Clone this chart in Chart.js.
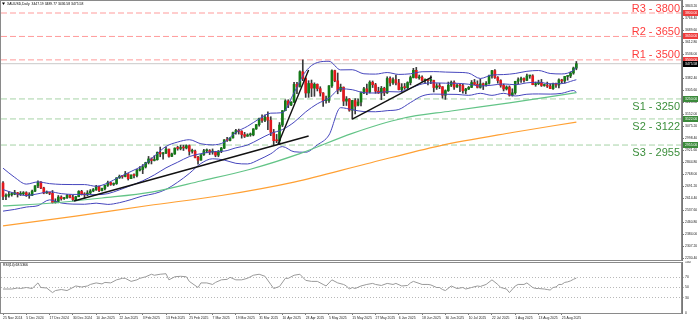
<!DOCTYPE html>
<html>
<head>
<meta charset="utf-8">
<title>XAUUSD Daily</title>
<script src="https://cdn.jsdelivr.net/npm/chart.js@4.4.1/dist/chart.umd.min.js"></script>
<style>
  html, body { margin: 0; padding: 0; background: #fff; }
  #wrap { position: relative; width: 698px; height: 323px; overflow: hidden; }
  #priceChart { position: absolute; left: 0; top: 0; }
  #rsiChart { position: absolute; left: 0; top: 261px; }
</style>
</head>
<body>
<div id="wrap">
  <canvas id="priceChart" width="698" height="261"></canvas>
  <canvas id="rsiChart" width="698" height="62"></canvas>
</div>
<script>
// daily candles, 25 Nov 2024 .. 1 Sep 2025 (bar index 0..197)
const opens = [
  2712, 2626, 2633, 2638, 2640, 2650, 2640, 2643, 2650, 2632,
  2633, 2660, 2694, 2718, 2680, 2648, 2652, 2646, 2586, 2594,
  2622, 2612, 2617, 2633, 2621, 2606, 2624, 2658, 2640, 2636,
  2648, 2661, 2670, 2690, 2663, 2677, 2697, 2715, 2703, 2708,
  2745, 2755, 2754, 2770, 2740, 2763, 2760, 2794, 2798, 2815,
  2843, 2866, 2856, 2861, 2908, 2898, 2904, 2929, 2883, 2898,
  2935, 2933, 2939, 2936, 2951, 2915, 2916, 2876, 2858, 2893,
  2918, 2920, 2910, 2910, 2890, 2916, 2935, 2988, 2984, 3001,
  3035, 3048, 3043, 3022, 3011, 3020, 3020, 3058, 3085, 3124,
  3113, 3133, 3114, 3037, 2983, 2982, 3083, 3175, 3237, 3211,
  3229, 3343, 3327, 3424, 3381, 3288, 3349, 3319, 3344, 3316,
  3288, 3239, 3240, 3334, 3431, 3366, 3306, 3325, 3236, 3249,
  3178, 3240, 3210, 3230, 3290, 3315, 3294, 3357, 3341, 3300,
  3288, 3318, 3289, 3381, 3353, 3373, 3352, 3310, 3325, 3322,
  3355, 3387, 3433, 3385, 3389, 3369, 3370, 3368, 3368, 3323,
  3333, 3328, 3274, 3303, 3338, 3357, 3326, 3337, 3335, 3302,
  3313, 3324, 3355, 3343, 3324, 3347, 3339, 3350, 3397, 3431,
  3387, 3368, 3337, 3314, 3326, 3274, 3289, 3363, 3373, 3381,
  3369, 3397, 3398, 3341, 3348, 3356, 3336, 3336, 3332, 3316,
  3348, 3339, 3372, 3365, 3394, 3397, 3416, 3447.19
];
const highs = [
  2721, 2642, 2657, 2651, 2665, 2652, 2657, 2657, 2656, 2650,
  2667, 2696, 2726, 2721, 2685, 2661, 2653, 2664, 2611, 2632,
  2630, 2621, 2639, 2637, 2634, 2627, 2663, 2665, 2650, 2663,
  2670, 2677, 2697, 2693, 2679, 2698, 2724, 2716, 2713, 2746,
  2763, 2759, 2786, 2772, 2764, 2771, 2799, 2817, 2830, 2845,
  2882, 2873, 2887, 2911, 2942, 2909, 2942, 2929, 2904, 2937,
  2947, 2955, 2954, 2956, 2956, 2929, 2923, 2882, 2894, 2928,
  2930, 2926, 2930, 2915, 2920, 2940, 2990, 3005, 3001, 3038,
  3055, 3057, 3047, 3036, 3027, 3032, 3060, 3087, 3128, 3149,
  3149, 3168, 3136, 3055, 3023, 3099, 3176, 3245, 3245, 3233,
  3357, 3357, 3430, 3500, 3386, 3367, 3371, 3353, 3346, 3328,
  3291, 3269, 3335, 3437, 3434, 3416, 3345, 3327, 3265, 3253,
  3241, 3252, 3250, 3295, 3325, 3345, 3366, 3365, 3350, 3325,
  3330, 3325, 3392, 3392, 3385, 3403, 3375, 3348, 3349, 3360,
  3397, 3446, 3452, 3403, 3398, 3378, 3374, 3398, 3370, 3348,
  3350, 3329, 3308, 3358, 3365, 3366, 3345, 3343, 3345, 3318,
  3330, 3368, 3375, 3366, 3377, 3352, 3361, 3402, 3433, 3438,
  3393, 3373, 3345, 3334, 3334, 3315, 3363, 3385, 3390, 3385,
  3409, 3400, 3405, 3358, 3370, 3375, 3346, 3358, 3346, 3351,
  3351, 3379, 3376, 3394, 3398, 3423, 3454, 3489.77
];
const lows = [
  2605, 2605, 2622, 2628, 2637, 2622, 2632, 2634, 2626, 2614,
  2631, 2656, 2682, 2676, 2643, 2645, 2637, 2583, 2583, 2585,
  2602, 2607, 2614, 2616, 2596, 2605, 2624, 2635, 2615, 2631,
  2641, 2656, 2664, 2656, 2661, 2667, 2690, 2697, 2696, 2703,
  2741, 2742, 2751, 2731, 2739, 2745, 2751, 2789, 2772, 2808,
  2834, 2834, 2853, 2858, 2880, 2864, 2900, 2877, 2880, 2895,
  2922, 2924, 2920, 2930, 2890, 2903, 2872, 2832, 2858, 2888,
  2905, 2894, 2896, 2880, 2880, 2906, 2932, 2978, 2982, 2999,
  3024, 3025, 2999, 3003, 3011, 3011, 3014, 3055, 3076, 3100,
  3105, 3054, 3015, 2956, 2970, 2957, 3073, 3174, 3194, 3207,
  3228, 3284, 3327, 3367, 3260, 3260, 3265, 3267, 3301, 3268,
  3202, 3223, 3228, 3323, 3360, 3283, 3297, 3207, 3208, 3171,
  3121, 3154, 3206, 3205, 3284, 3277, 3288, 3323, 3286, 3285,
  3245, 3271, 3285, 3333, 3343, 3339, 3307, 3293, 3311, 3316,
  3340, 3384, 3383, 3376, 3362, 3347, 3340, 3347, 3295, 3311,
  3316, 3255, 3247, 3298, 3329, 3311, 3323, 3296, 3287, 3283,
  3310, 3322, 3341, 3320, 3319, 3310, 3332, 3345, 3383, 3381,
  3351, 3325, 3301, 3307, 3268, 3268, 3280, 3346, 3355, 3358,
  3367, 3382, 3341, 3331, 3341, 3330, 3331, 3323, 3315, 3311,
  3323, 3321, 3351, 3351, 3370, 3386, 3408, 3436.58
];
const closes = [
  2626, 2633, 2638, 2640, 2650, 2640, 2643, 2650, 2632, 2633,
  2660, 2694, 2718, 2680, 2648, 2652, 2646, 2586, 2594, 2622,
  2612, 2617, 2633, 2621, 2606, 2624, 2658, 2640, 2636, 2648,
  2661, 2670, 2690, 2663, 2677, 2697, 2715, 2703, 2708, 2745,
  2755, 2754, 2770, 2740, 2763, 2760, 2794, 2798, 2815, 2843,
  2866, 2856, 2861, 2908, 2898, 2904, 2929, 2883, 2898, 2935,
  2933, 2939, 2936, 2951, 2915, 2916, 2876, 2858, 2893, 2918,
  2920, 2910, 2910, 2890, 2916, 2935, 2988, 2984, 3001, 3035,
  3048, 3043, 3022, 3011, 3020, 3020, 3058, 3085, 3124, 3113,
  3133, 3114, 3037, 2983, 2982, 3083, 3175, 3237, 3211, 3229,
  3343, 3327, 3424, 3381, 3288, 3349, 3319, 3344, 3316, 3288,
  3239, 3240, 3334, 3431, 3366, 3306, 3325, 3236, 3249, 3178,
  3240, 3203, 3230, 3290, 3315, 3294, 3357, 3341, 3300, 3288,
  3318, 3289, 3381, 3353, 3373, 3352, 3310, 3325, 3322, 3355,
  3387, 3433, 3385, 3389, 3369, 3370, 3368, 3368, 3323, 3333,
  3328, 3274, 3303, 3338, 3357, 3326, 3337, 3335, 3302, 3313,
  3324, 3355, 3343, 3324, 3347, 3339, 3350, 3397, 3431, 3387,
  3368, 3337, 3314, 3326, 3274, 3289, 3363, 3373, 3381, 3369,
  3397, 3398, 3341, 3348, 3356, 3336, 3336, 3332, 3316, 3348,
  3339, 3372, 3365, 3394, 3397, 3416, 3448, 3475.58
];

// Bollinger bands (20, 2), sampled every 4th bar
const bbBars = [
  0, 4, 8, 12, 16, 20, 24, 28, 32, 36, 40, 44, 48, 52, 56, 60, 64, 68, 72, 76,
  80, 84, 88, 92, 96, 100, 104, 108, 112, 116, 120, 124, 128, 132, 136, 140,
  144, 148, 152, 156, 160, 164, 168, 172, 176, 180, 184, 188, 192, 196, 197
];
const bbUpper = [
  2807, 2748, 2705, 2719, 2708, 2703, 2702, 2702, 2691, 2712, 2751, 2786, 2824, 2884, 2946, 2974, 2989, 2963, 2956, 2973,
  3036, 3075, 3122, 3159, 3162, 3290, 3426, 3483, 3491, 3436, 3437, 3411, 3409, 3419, 3407, 3411,
  3424, 3425, 3422, 3420, 3415, 3381, 3403, 3406, 3413, 3427, 3432, 3413, 3410, 3433, 3453
];
const bbMiddle = [
  2670, 2646, 2632, 2643, 2656, 2644, 2639, 2639, 2637, 2644, 2668, 2696, 2726, 2764, 2809, 2845, 2881, 2900, 2912, 2916,
  2937, 2955, 2992, 3029, 3054, 3101, 3167, 3219, 3255, 3315, 3309, 3290, 3288, 3297, 3295, 3319,
  3346, 3353, 3351, 3350, 3344, 3333, 3338, 3346, 3341, 3353, 3357, 3347, 3348, 3368, 3373
];
const bbLower = [
  2532, 2543, 2558, 2567, 2604, 2584, 2577, 2576, 2583, 2575, 2586, 2606, 2629, 2644, 2671, 2717, 2773, 2837, 2867, 2859,
  2838, 2834, 2862, 2899, 2945, 2912, 2909, 2956, 3019, 3194, 3181, 3169, 3168, 3175, 3183, 3227,
  3269, 3281, 3280, 3279, 3273, 3286, 3273, 3286, 3269, 3280, 3282, 3281, 3286, 3304, 3293
];

// moving averages (green = 100, orange = 200)
const ma100Bars = [0, 17, 34, 51, 68, 85, 102, 120, 137, 154, 174, 197];
const ma100 = [2565, 2584, 2616, 2654, 2725, 2800, 2900, 3030, 3125, 3173, 3225, 3290];
const ma200Bars = [0, 25, 50, 75, 100, 125, 150, 175, 197];
const ma200 = [2437, 2500, 2568, 2632, 2718, 2835, 2950, 3035, 3102];

// trend lines: [bar, price, bar, price]
const trendLines = [
  [24.4, 2597, 105, 3013],
  [94.5, 2960, 105, 3435],
  [120, 3121, 147.3, 3390]
];

// support / resistance
const levels = [3800, 3650, 3500, 3250, 3122, 2955];
const levelNames = ['R3 - 3800', 'R2 - 3650', 'R1 - 3500', 'S1 - 3250', 'S2 - 3122', 'S3 - 2955'];

// RSI(14)
const rsiBars = [
  0, 3, 5, 6, 8, 10, 12, 13, 15, 17,
  18, 20, 22, 23, 25, 27, 29, 30, 32, 34,
  35, 37, 39, 41, 42, 44, 46, 47, 49, 51,
  52, 54, 56, 57, 59, 61, 63, 64, 67, 68,
  70, 72, 73, 75, 77, 78, 80, 82, 84, 86,
  88, 90, 92, 93, 95, 97, 98, 100, 102, 103,
  104, 106, 108, 110, 111, 113, 115, 117, 118, 119,
  120, 121, 123, 125, 127, 128, 130, 132, 134, 135,
  137, 139, 140, 141, 144, 146, 147, 149, 150, 151,
  152, 154, 156, 158, 159, 161, 163, 164, 166, 168,
  170, 171, 173, 174, 176, 177, 179, 180, 182, 183,
  184, 186, 187, 188, 189, 190, 191, 192, 193, 194,
  195, 196, 197
];
const rsiValues = [
  47, 47, 49, 48, 50, 48, 59, 50, 49, 40,
  44, 46, 44, 47, 53, 51, 53, 56, 59, 57,
  60, 59, 65, 68, 68, 62, 65, 68, 71, 76,
  74, 76, 77, 65, 71, 72, 71, 62, 50, 59,
  59, 56, 60, 65, 66, 70, 65, 65, 68, 74,
  76, 72, 56, 48, 52, 68, 68, 74, 76, 70,
  64, 62, 62, 56, 53, 65, 59, 56, 53, 47,
  50, 48, 53, 56, 58, 56, 54, 58, 56, 58,
  53, 54, 59, 62, 56, 56, 55, 50, 50, 46,
  44, 53, 48, 50, 47, 50, 53, 52, 56, 65,
  56, 50, 47, 40, 53, 56, 56, 59, 50, 48,
  48, 47, 46, 45, 50, 51, 56, 56, 60, 61,
  63, 66, 68.5366
];
const rsiTicks = [0, 30, 50, 70, 100];

// axis ticks
const priceTicks = [
  3843.2, 3766.4, 3689.6, 3612.8, 3536.0, 3459.2, 3382.4, 3305.6, 3228.8, 3152.0, 3075.2,
  2998.4, 2921.6, 2844.8, 2768.0, 2691.2, 2614.4, 2537.6, 2460.8, 2384.0, 2307.2, 2230.4
];
const dateTickBars = [0, 8, 16, 24, 32, 40, 48, 56, 64, 72, 80, 88, 96, 104, 112, 120, 128, 136, 144, 152, 160, 168, 176, 184, 192];
const dateTickLabels = [
  '25 Nov 2024', '5 Dec 2024', '17 Dec 2024', '30 Dec 2024', '10 Jan 2025', '22 Jan 2025', '3 Feb 2025',
  '13 Feb 2025', '25 Feb 2025', '7 Mar 2025', '19 Mar 2025', '31 Mar 2025', '10 Apr 2025', '23 Apr 2025',
  '5 May 2025', '15 May 2025', '27 May 2025', '6 Jun 2025', '18 Jun 2025', '30 Jun 2025', '10 Jul 2025',
  '22 Jul 2025', '1 Aug 2025', '13 Aug 2025', '25 Aug 2025'
];

const X_MIN = -0.7;
const X_MAX = 233.3;
const FAMILY = "'Liberation Sans', Arial, sans-serif";
const tiny = { family: FAMILY, size: 3.4 };
const last = closes.length - 1;
const lastClose = closes[last];

function lineSet(xs, ys, color, width, extra) {
  return Object.assign({
    type: 'line',
    data: xs.map((x, k) => ({ x: x, y: ys[k] })),
    borderColor: color,
    borderWidth: width,
    pointRadius: 0,
    fill: false,
    cubicInterpolationMode: 'monotone',
    order: 3
  }, extra || {});
}

// candles as floating bars: wick = [low, high], body = [open, close]
const idx = closes.map((c, i) => i);
const candleColors = idx.map(i => closes[i] >= opens[i] ? '#137a16' : '#e3181d');

const priceSets = [];
levels.forEach(v => {
  priceSets.push(lineSet([X_MIN, X_MAX], [v, v], v > lastClose ? '#ff9b9b' : '#a6d3a6', 1,
    { borderDash: [6, 3], order: 7 }));
});
priceSets.push(lineSet([X_MIN, X_MAX], [lastClose, lastClose], '#c9c9c9', 1, { order: 7 }));
priceSets.push({
  type: 'bar', grouped: false, barThickness: 1, order: 6,
  data: idx.map(i => ({ x: i, y: [lows[i], highs[i]] })),
  backgroundColor: '#3a3a3a', borderWidth: 0
});
priceSets.push({
  type: 'bar', grouped: false, barThickness: 2, minBarLength: 1, order: 5,
  data: idx.map(i => ({ x: i, y: [opens[i], closes[i]] })),
  backgroundColor: candleColors, borderWidth: 0
});
priceSets.push(lineSet(ma200Bars, ma200, '#ffa033', 1.2));
priceSets.push(lineSet(ma100Bars, ma100, '#63c487', 1.2));
priceSets.push(lineSet(bbBars, bbUpper, '#4646bd', 1));
priceSets.push(lineSet(bbBars, bbMiddle, '#4646bd', 1));
priceSets.push(lineSet(bbBars, bbLower, '#4646bd', 1));
trendLines.forEach(t => {
  priceSets.push(lineSet([t[0], t[2]], [t[1], t[3]], '#111', 1.4, { order: 0, cubicInterpolationMode: 'default' }));
});

// frame, header, level labels and price boxes
const pricePanel = {
  id: 'pricePanel',
  afterDraw(chart) {
    const { ctx, chartArea: a } = chart;
    const y = chart.scales.y;
    ctx.save();
    ctx.strokeStyle = '#8a8a8a';
    ctx.lineWidth = 1;
    ctx.strokeRect(a.left - 0.5, a.top + 0.5, a.right - a.left, a.bottom - a.top);

    // header line
    ctx.fillStyle = '#000';
    ctx.beginPath();
    ctx.moveTo(2, 2.5); ctx.lineTo(5, 2.5); ctx.lineTo(3.5, 5);
    ctx.fill();
    ctx.font = '3.4px ' + FAMILY;
    ctx.textBaseline = 'middle';
    ctx.textAlign = 'left';
    ctx.fillText('XAUUSD,Daily  ' + [opens[last], highs[last], lows[last], closes[last]].map(v => v.toFixed(2)).join(' '), 7, 4);

    // level names
    ctx.font = '11px ' + FAMILY;
    ctx.textAlign = 'right';
    ctx.textBaseline = 'alphabetic';
    levels.forEach((v, k) => {
      const py = y.getPixelForValue(v);
      const res = v > lastClose;
      ctx.fillStyle = res ? '#ff3d3d' : '#3d8f3d';
      ctx.fillText(levelNames[k], a.right - 2, res ? py - 1.5 : py + 11);
    });

    // value boxes on the price axis
    const box = (v, bg) => {
      const py = Math.round(y.getPixelForValue(v));
      ctx.fillStyle = bg;
      ctx.fillRect(a.right + 1, py - 3, 16, 6);
      ctx.fillStyle = '#fff';
      ctx.font = '3.4px ' + FAMILY;
      ctx.textAlign = 'left';
      ctx.textBaseline = 'middle';
      ctx.fillText(v.toFixed(2), a.right + 3, py);
    };
    levels.forEach(v => box(v, v > lastClose ? '#ee3b3b' : '#3b8a3b'));
    box(lastClose, '#000');
    ctx.restore();
  }
};

new Chart(document.getElementById('priceChart'), {
  type: 'bar',
  data: { datasets: priceSets },
  options: {
    responsive: false,
    animation: false,
    events: [],
    layout: { padding: { left: 1, top: 0, right: 0, bottom: 1 } },
    plugins: { legend: { display: false }, tooltip: { enabled: false } },
    scales: {
      x: { type: 'linear', min: X_MIN, max: X_MAX, offset: false, display: false },
      y: {
        type: 'linear',
        position: 'right',
        min: 2219.2,
        max: 3883.2,
        afterBuildTicks: s => { s.ticks = priceTicks.map(v => ({ value: v })); },
        afterFit: s => { s.width = 16; s.paddingTop = 0; s.paddingBottom = 0; },
        ticks: { font: tiny, color: '#222', padding: 1, autoSkip: false, callback: v => v.toFixed(2) },
        grid: { drawOnChartArea: false, tickLength: 2, color: '#777' },
        border: { color: '#777' }
      }
    }
  },
  plugins: [pricePanel]
});

// RSI panel
const rsiPanel = {
  id: 'rsiPanel',
  afterDraw(chart) {
    const { ctx, chartArea: a } = chart;
    ctx.save();
    ctx.strokeStyle = '#8a8a8a';
    ctx.lineWidth = 1;
    ctx.strokeRect(a.left - 0.5, a.top + 0.5, a.right - a.left, a.bottom - a.top);
    ctx.fillStyle = '#000';
    ctx.font = '3.4px ' + FAMILY;
    ctx.textBaseline = 'middle';
    ctx.fillText('RSI(14) ' + rsiValues[rsiValues.length - 1].toFixed(4), 3, a.top + 3);
    ctx.restore();
  }
};

new Chart(document.getElementById('rsiChart'), {
  type: 'line',
  data: { datasets: [lineSet(rsiBars, rsiValues, '#9a9a9a', 1, { cubicInterpolationMode: 'default', tension: 0 })] },
  options: {
    responsive: false,
    animation: false,
    events: [],
    layout: { padding: { left: 1, top: 1, right: 0, bottom: 0 } },
    plugins: { legend: { display: false }, tooltip: { enabled: false } },
    scales: {
      x: {
        type: 'linear', min: X_MIN, max: X_MAX, offset: false, position: 'bottom',
        afterBuildTicks: s => { s.ticks = dateTickBars.map(v => ({ value: v })); },
        afterFit: s => { s.height = 10; s.paddingLeft = 0; s.paddingRight = 0; },
        ticks: {
          font: tiny, color: '#222', padding: 1, align: 'start',
          maxRotation: 0, minRotation: 0, autoSkip: false,
          callback: (v, k) => dateTickLabels[k]
        },
        grid: { drawOnChartArea: false, tickLength: 2, color: '#777' },
        border: { color: '#777' }
      },
      y: {
        type: 'linear', position: 'right', min: 0, max: 100,
        afterBuildTicks: s => { s.ticks = rsiTicks.map(v => ({ value: v })); },
        afterFit: s => { s.width = 16; s.paddingTop = 0; s.paddingBottom = 0; },
        ticks: { font: tiny, color: '#222', padding: 1, autoSkip: false },
        grid: {
          color: c => (c.tick && [30, 50, 70].includes(c.tick.value)) ? '#b8b8b8' : 'rgba(0,0,0,0)',
          tickLength: 2
        },
        border: { color: '#777', dash: [1, 2] }
      }
    }
  },
  plugins: [rsiPanel]
});
</script>
</body>
</html>
